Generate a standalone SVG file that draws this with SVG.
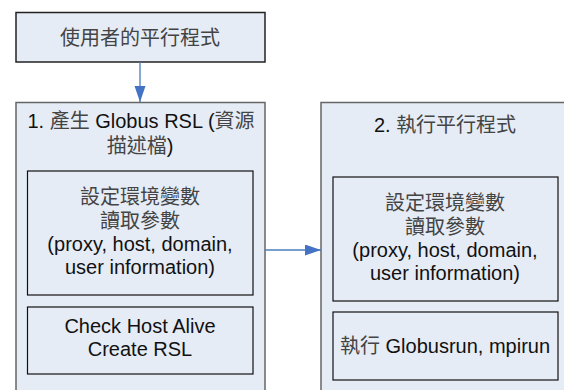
<svg xmlns="http://www.w3.org/2000/svg" width="564" height="390" viewBox="0 0 564 390">
<defs>
<style>
.outer{fill:#E6ECF6;stroke:#666;stroke-width:1.5}
.top{fill:#E6ECF6;stroke:#222;stroke-width:1.5}
.inner{fill:#E6ECF6;stroke:#111;stroke-width:1.2}
.t{font-family:"Liberation Sans","Noto Sans CJK TC",sans-serif;font-size:20px;fill:#111;text-anchor:middle}
.cjk{fill:#444}
.conn{stroke:#4A7EBB;stroke-width:1.3;fill:none}
</style>
<marker id="ah" markerUnits="userSpaceOnUse" markerWidth="16" markerHeight="12" refX="16" refY="5.5" orient="auto">
<path d="M0,0 L16,5.5 L0,11 Z" fill="#4472C4"/>
</marker>
</defs>
<rect width="564" height="390" fill="#fff"/>
<g id="user-program">
<rect class="top" x="16" y="12.5" width="249" height="49.5"/>
<text class="t cjk" x="140" y="45">使用者的平行程式</text>
</g>
<g id="step1">
<rect class="outer" x="16" y="102.5" width="249" height="300"/>
<text class="t" x="141" y="128">1. <tspan class="cjk">產生</tspan> Globus RSL (<tspan class="cjk">資源</tspan></text>
<text class="t" x="140" y="153"><tspan class="cjk">描述檔</tspan>)</text>
</g>
<g id="step1-env">
<rect class="inner" x="27.5" y="171" width="225.5" height="124"/>
<text class="t cjk" x="140" y="204">設定環境變數</text>
<text class="t cjk" x="140" y="228">讀取參數</text>
<text class="t" x="140" y="251">(proxy, host, domain,</text>
<text class="t" x="140" y="274">user information)</text>
</g>
<g id="step1-check">
<rect class="inner" x="27.5" y="307" width="225.5" height="67"/>
<text class="t" x="140" y="333">Check Host Alive</text>
<text class="t" x="140" y="356">Create RSL</text>
</g>
<g id="step2">
<rect class="outer" x="321" y="102.5" width="260" height="300"/>
<text class="t" x="445" y="132">2. <tspan class="cjk">執行平行程式</tspan></text>
</g>
<g id="step2-env">
<rect class="inner" x="333" y="177" width="225" height="124"/>
<text class="t cjk" x="445" y="210">設定環境變數</text>
<text class="t cjk" x="445" y="234">讀取參數</text>
<text class="t" x="445" y="257">(proxy, host, domain,</text>
<text class="t" x="445" y="280">user information)</text>
</g>
<g id="step2-run">
<rect class="inner" x="333" y="312" width="225" height="68"/>
<text class="t" x="445" y="353"><tspan class="cjk">執行</tspan> Globusrun, mpirun</text>
</g>
<g id="connectors">
<line class="conn" x1="140" y1="62" x2="140" y2="102" marker-end="url(#ah)"/>
<line class="conn" x1="265" y1="250" x2="321" y2="250" marker-end="url(#ah)"/>
</g>
</svg>
